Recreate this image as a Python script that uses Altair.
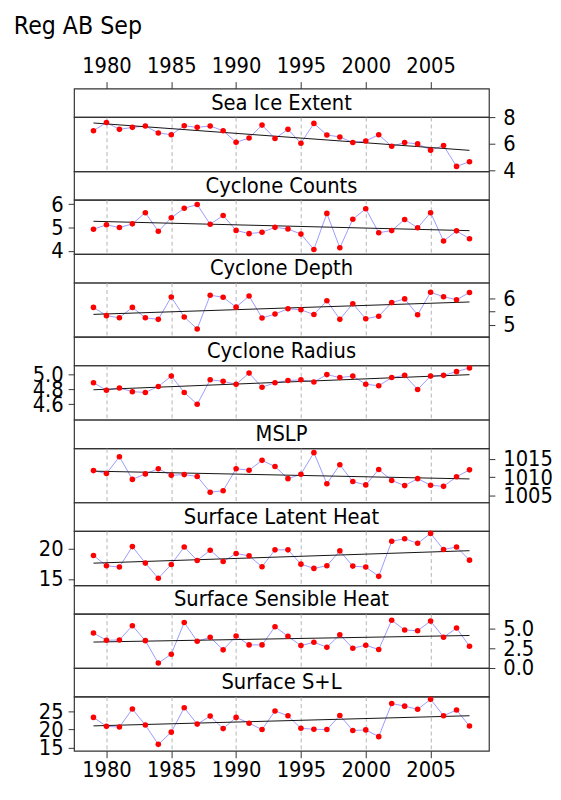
import altair as alt
import pandas as pd

FONT = "DejaVu Sans Condensed, DejaVu Sans"

years = list(range(1979, 2009))
grid_years = [1980, 1985, 1990, 1995, 2000, 2005]

names = ["Sea Ice Extent", "Cyclone Counts", "Cyclone Depth", "Cyclone Radius",
         "MSLP", "Surface Latent Heat", "Surface Sensible Heat", "Surface S+L"]

sea_ice = [6.98, 7.60, 7.08, 7.23, 7.33, 6.81, 6.68, 7.35, 7.23, 7.33, 6.98, 6.11, 6.43, 7.40, 6.39,
           7.08, 6.04, 7.53, 6.66, 6.51, 6.09, 6.21, 6.68, 5.81, 6.09, 5.99, 5.52, 5.86, 4.30, 4.65]
counts = [4.93, 5.12, 5.00, 5.16, 5.64, 4.84, 5.42, 5.83, 5.99, 5.14, 5.52, 4.88, 4.74, 4.80, 5.01,
          4.94, 4.72, 4.06, 5.61, 4.13, 5.36, 5.81, 4.78, 4.87, 5.35, 4.99, 5.64, 4.42, 4.86, 4.52]
depth = [5.66, 5.35, 5.27, 5.66, 5.27, 5.21, 6.05, 5.30, 4.85, 6.12, 6.04, 5.67, 6.09, 5.26, 5.41,
         5.61, 5.57, 5.39, 5.91, 5.21, 5.80, 5.23, 5.33, 5.84, 5.98, 5.38, 6.23, 6.06, 5.95, 6.22]
radius = [4.89, 4.79, 4.82, 4.77, 4.76, 4.84, 4.98, 4.76, 4.60, 4.93, 4.91, 4.87, 5.02, 4.83, 4.89,
          4.92, 4.93, 4.90, 5.00, 4.96, 4.98, 4.87, 4.85, 4.96, 4.99, 4.80, 4.98, 4.99, 5.04, 5.09]
mslp = [1011.8, 1011.0, 1015.6, 1009.4, 1010.9, 1012.3, 1010.5, 1010.7, 1010.2, 1005.9, 1006.3,
        1012.3, 1011.9, 1014.6, 1012.9, 1009.6, 1010.8, 1016.7, 1008.2, 1013.4, 1008.8, 1007.9,
        1012.1, 1009.1, 1007.7, 1009.6, 1007.8, 1007.5, 1010.1, 1012.0]
latent = [18.90, 17.20, 16.98, 20.38, 17.64, 15.11, 17.42, 20.33, 18.08, 19.78, 17.91, 19.23, 18.85,
          17.03, 19.84, 19.84, 17.47, 16.76, 17.20, 19.67, 17.14, 16.98, 15.44, 21.26, 21.70, 20.93,
          22.58, 19.89, 20.33, 18.13]
sensible = [4.49, 3.55, 3.59, 5.43, 3.50, 0.60, 1.75, 5.85, 3.42, 3.93, 2.31, 4.10, 2.95, 2.95, 5.30,
            4.06, 2.86, 3.29, 2.65, 4.27, 2.52, 2.91, 2.35, 6.15, 4.87, 4.79, 6.03, 3.93, 5.13, 2.78]
s_plus_l = [23.33, 20.88, 20.70, 25.61, 21.23, 15.96, 19.30, 25.96, 21.49, 23.68, 20.26, 23.33, 21.75,
            20.00, 25.09, 23.77, 20.35, 20.09, 20.00, 23.86, 19.74, 19.91, 18.07, 27.11, 26.40, 25.53,
            28.25, 23.77, 25.35, 20.96]

series = [sea_ice, counts, depth, radius, mslp, latent, sensible, s_plus_l]
sides = ["right", "left", "right", "left", "right", "left", "right", "left"]
y_domains = [[3.93, 8.0], [3.86, 6.19], [4.55, 6.59], [4.393, 5.123],
             [1003.1, 1017.9], [13.96, 22.97], [-0.04, 6.97], [14.2, 29.0]]
y_ticks = [[4, 6, 8], [4, 5, 6], [5, 5.5, 6], [4.6, 4.8, 5.0],
           [1005, 1010, 1015], [15, 20], [0, 2.5, 5], [15, 20, 25]]
y_label_expr = [
    "format(datum.value, 'd')",
    "format(datum.value, 'd')",
    "datum.value % 1 == 0 ? format(datum.value, 'd') : ''",
    "format(datum.value, '.1f')",
    "format(datum.value, 'd')",
    "format(datum.value, 'd')",
    "format(datum.value, '.1f')",
    "format(datum.value, 'd')",
]

W = 421
STRIP_H = 29
PLOT_H = 55
LABEL_FS = 22
xscale = alt.Scale(domain=[1977.5, 2009.5], nice=False, zero=False)


def strip(i):
    text = alt.Chart(pd.DataFrame({"t": [names[i]]})).mark_text(
        font=FONT, fontSize=22, color="black"
    ).encode(text="t:N", x=alt.value(W / 2), y=alt.value(14.5))
    layers = [text]
    if i == 0:
        ax = alt.Chart(pd.DataFrame({"year": years})).mark_point(opacity=0).encode(
            x=alt.X("year:Q", scale=xscale,
                    axis=alt.Axis(orient="top", values=grid_years, format="d", grid=False,
                                  domain=False, ticks=True, tickSize=7, tickColor="#333",
                                  labelFontSize=LABEL_FS, labelFont=FONT, labelColor="black",
                                  labelPadding=4, labelOverlap=False, title=None))
        )
        layers.append(ax)
    return alt.layer(*layers).properties(width=W, height=STRIP_H)


def panel(i):
    df = pd.DataFrame({"year": years, "value": series[i]})
    last = i == 7
    xaxis = alt.Axis(values=grid_years, format="d", grid=True, gridDash=[4, 3],
                     gridColor="#b4b4b4", gridWidth=1, labels=last, ticks=last,
                     domain=False, tickSize=7, tickColor="#333", labelFontSize=LABEL_FS,
                     labelFont=FONT, labelColor="black", labelPadding=2,
                     labelOverlap=False, title=None)
    yaxis = alt.Axis(orient=sides[i], values=y_ticks[i], labelExpr=y_label_expr[i],
                     grid=False, domain=False, tickSize=6, tickColor="#333",
                     labelFontSize=LABEL_FS, labelFont=FONT, labelColor="black",
                     labelPadding=5 if sides[i] == "left" else 8,
                     labelOverlap=False, labelFlush=False, title=None)
    base = alt.Chart(df).encode(
        x=alt.X("year:Q", scale=xscale, axis=xaxis),
        y=alt.Y("value:Q", scale=alt.Scale(domain=y_domains[i], nice=False, zero=False),
                axis=yaxis),
    )
    line = base.mark_line(color="#9a9aff", strokeWidth=1)
    reg = base.transform_regression("year", "value").mark_line(color="#111", strokeWidth=1)
    pts = base.mark_circle(color="#ff0000", size=32, opacity=1)
    return alt.layer(line, reg, pts).properties(width=W, height=PLOT_H)


charts = []
for i in range(8):
    charts.append(strip(i))
    charts.append(panel(i))

chart = alt.vconcat(*charts, spacing=0, bounds="flush").resolve_scale(y="independent").properties(
    title=alt.TitleParams("Reg AB Sep", anchor="start", font=FONT, fontSize=25,
                          fontWeight="normal", color="black", dx=-18, offset=16),
    padding={"left": 5, "right": 0, "top": 0, "bottom": 0},
).configure_view(stroke="#333", strokeWidth=1.2).configure_concat(spacing=0)

chart.save("out.html", embed_options={"renderer": "svg", "actions": False})
